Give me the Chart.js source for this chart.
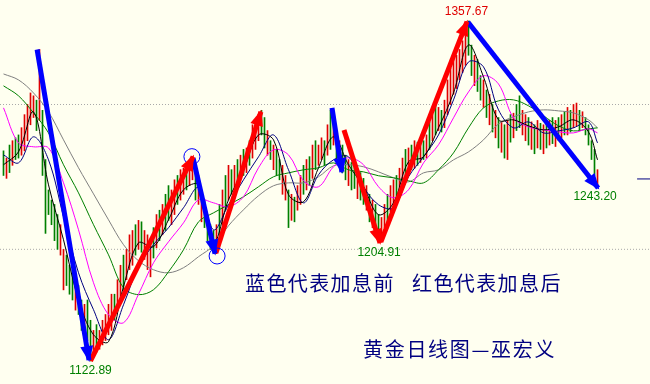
<!DOCTYPE html>
<html><head><meta charset="utf-8">
<script src="https://cdn.jsdelivr.net/npm/chart.js@4.4.0/dist/chart.umd.min.js"></script>
<style>html,body{margin:0;padding:0;background:#fffff0;overflow:hidden}#wrap{width:650px;height:384px}</style>
</head><body><div id="wrap"><canvas id="c" width="650" height="384"></canvas></div>
<script>
// ---- daily bars (high / low), 199 sessions ----
const highs = [
1268,1263,1272,1275,1277,1279,1284,1293,1300,1308,
1306,1303,1338,1296,1262,1241,1234,1231,1224,1217,
1200,1196,1189,1186,1182,1175,1165,1162,1165,1151,
1144,1148,1144,1151,1155,1162,1169,1169,1179,1189,
1196,1200,1210,1213,1217,1220,1219,1213,1210,1206,
1215,1224,1227,1231,1238,1244,1241,1248,1251,1255,
1256,1258,1262,1263,1255,1251,1238,1234,1224,1217,
1213,1217,1231,1241,1251,1258,1255,1258,1262,1265,
1269,1270,1275,1286,1288,1293,1296,1291,1282,1275,
1272,1269,1262,1258,1251,1241,1238,1236,1244,1251,
1258,1262,1264,1272,1275,1272,1277,1275,1286,1296,
1295,1282,1275,1272,1265,1262,1260,1258,1255,1253,
1249,1244,1238,1234,1231,1224,1222,1231,1238,1244,
1248,1251,1256,1263,1269,1270,1272,1275,1274,1277,
1275,1279,1288,1293,1300,1298,1296,1303,1317,1325,
1331,1334,1338,1344,1350,1357.67,1341,1334,1331,1320,
1317,1310,1307,1300,1296,1291,1288,1286,1289,1293,
1294,1300,1306,1296,1293,1291,1288,1286,1289,1287,
1286,1288,1289,1291,1289,1291,1293,1295,1298,1296,
1300,1301,1296,1295,1291,1286,1275,1269,1255];
const lows = [
1251,1249,1253,1258,1262,1263,1265,1268,1275,1286,
1291,1282,1289,1251,1211,1224,1217,1206,1200,1196,
1172,1175,1169,1165,1158,1155,1144,1141,1137,1122.89,
1127,1129,1131,1134,1137,1141,1144,1151,1158,1165,
1172,1179,1186,1189,1196,1200,1198,1193,1186,1181,
1194,1201,1206,1210,1213,1220,1217,1224,1231,1234,
1238,1241,1244,1248,1234,1231,1219,1215,1206,1200,
1198,1197,1210,1217,1227,1234,1238,1241,1242,1248,
1251,1253,1258,1263,1269,1275,1279,1270,1265,1262,
1255,1251,1248,1238,1234,1215,1220,1219,1227,1231,
1238,1241,1244,1249,1255,1258,1262,1258,1265,1269,
1272,1262,1258,1253,1248,1244,1241,1242,1235,1234,
1231,1227,1219,1215,1212,1208,1204.91,1215,1219,1226,
1227,1234,1238,1242,1248,1251,1255,1256,1258,1260,
1262,1263,1269,1275,1279,1282,1281,1284,1293,1300,
1307,1311,1317,1322,1327,1334,1320,1313,1309,1303,
1298,1291,1286,1281,1277,1270,1267,1263,1262,1274,
1277,1282,1284,1279,1275,1272,1269,1266,1270,1269,
1266,1270,1272,1273,1271,1275,1277,1279,1279,1281,
1284,1285,1282,1284,1279,1272,1262,1251,1243.2];
// 1 = up bar (red), 0 = down bar (green)
const upBar = [
0,1,0,1,0,0,1,1,1,1, 1,0,1,0,0,0,0,0,0,1, 1,0,0,0,1,0,0,1,0,0, 1,0,1,1,1,1,1,0,1,1,
0,1,1,1,0,1,0,1,1,1, 0,1,0,1,0,0,1,1,0,1, 1,0,1,1,0,1,1,0,0,0, 0,1,0,1,0,1,0,1,0,1,
0,1,0,1,1,1,0,0,1,0, 1,0,0,1,1,0,1,0,1,1, 0,1,0,1,0,1,1,0,1,0, 1,0,1,0,0,1,0,0,1,0,
0,1,0,1,0,0,1,1,0,1, 1,0,1,1,0,1,0,1,0,1, 0,1,0,1,0,1,0,1,1,1, 1,1,1,1,1,0,0,1,0,0,
1,0,1,0,1,0,1,0,1,0, 1,0,0,1,1,0,1,0,1,0, 1,0,1,0,1,0,1,0,1,0, 1,1,0,1,0,0,0,0,1];

// ---- moving averages, sampled every 5 sessions ----
const maIdx = [0,5,10,15,20,25,30,35,40,45,50,55,60,65,70,75,80,85,90,95,100,105,110,115,120,125,130,135,140,145,150,155,160,165,170,175,180,185,190,195,198];
const maFast = [1258.4,1267.3,1294.9,1244.5,1206.6,1165.2,1141.0,1136.2,1174.2,1204.5,1201.8,1220.4,1241.1,1244.5,1204.5,1234.2,1254.9,1279.0,1275.6,1237.7,1232.8,1256.3,1277.7,1258.4,1243.2,1223.9,1232.1,1260.4,1263.9,1283.9,1308.0,1341.1,1319.1,1289.4,1289.4,1285.3,1282.5,1284.6,1289.4,1281.1,1261.8];
const maNavy = [1265.2,1259.7,1277.7,1261.8,1222.5,1183.8,1158.3,1137.6,1161.7,1188.0,1203.2,1214.9,1228.7,1242.5,1213.5,1230.8,1248.0,1263.9,1279.0,1254.9,1232.1,1251.5,1261.8,1263.9,1243.2,1230.8,1228.7,1250.1,1263.9,1279.0,1303.2,1329.4,1326.0,1296.3,1283.9,1288.0,1280.4,1281.8,1283.9,1288.0,1273.5];
const maMid = [1297.7,1273.5,1270.8,1270.0,1245.9,1213.5,1176.9,1154.9,1149.3,1169.0,1190.7,1205.2,1218.3,1234.2,1232.1,1229.4,1236.3,1256.3,1268.7,1265.2,1247.3,1243.2,1257.0,1263.2,1258.4,1243.2,1235.6,1241.1,1259.7,1272.2,1290.8,1308.7,1319.8,1314.2,1290.8,1284.6,1282.5,1281.1,1280.4,1283.2,1280.4];
const maSlow = [1312.9,1306.0,1294.2,1280.4,1258.4,1239.0,1217.0,1196.2,1173.5,1168.7,1172.1,1184.5,1199.7,1219.0,1225.2,1230.8,1236.3,1243.2,1250.1,1252.8,1254.9,1256.3,1259.7,1254.9,1253.5,1250.8,1249.4,1247.3,1245.9,1254.9,1266.6,1283.9,1297.7,1302.5,1303.2,1299.1,1292.2,1285.3,1281.8,1283.2,1283.9];
const maLong = [1321.1,1317.0,1308.0,1294.9,1275.6,1256.3,1238.3,1220.4,1203.2,1192.1,1185.9,1183.8,1187.3,1194.9,1202.5,1216.3,1227.3,1237.0,1243.9,1245.9,1245.9,1250.1,1257.7,1258.4,1257.0,1253.5,1249.4,1246.6,1252.8,1254.9,1261.8,1267.3,1275.6,1286.6,1291.5,1294.9,1296.3,1295.6,1294.2,1289.4,1283.9];

// ---- reference levels ----
const levels = [1200, 1300];
const lastPrice = 1248.6;

// ---- swing arrows (session index, price) ----
const arrowFrom = [[11.2,1338],[29,1123],[63.2,1263],[70.8,1197.5],[109.5,1297.6],[113.5,1282.4],[125.8,1205.1],[154.8,1357]];
const arrowTo   = [[28.5,1123.5],[63.2,1264],[70.5,1197],[85.8,1295],[112.8,1253.4],[125.5,1204.4],[154.5,1357.2],[198.2,1242.4]];
const arrowPhase = ['before','after','before','after','before','after','after','before'];
const circleAt = [[62.8,1264],[71.2,1195.4]];

// ---- swing labels ----
const labelText  = ['1357.67','1122.89','1204.91','1243.20'];
const labelIdx   = [154.3, 29, 125.2, 197.2];
const labelPrice = [1357.67, 1122.89, 1204.91, 1243.20];
const labelSide  = ['above','below','below','below'];

const noteLine1a = '蓝色代表加息前';
const noteLine1b = '红色代表加息后';
const noteLine2  = '黄金日线图—巫宏义';

// ================= chart =================
const XMIN = -7/6, XMAX = XMIN + 650/3;
const datasets = [];
levels.forEach(v => datasets.push({type:'line', data:[{x:XMIN,y:v},{x:XMAX,y:v}], borderColor:'#a9a9a9', borderWidth:1, borderDash:[1,2], pointRadius:0, order:20}));
datasets.push({type:'bar', data: highs.map((h,i)=>({x:i, y:[lows[i], h]})),
  backgroundColor: upBar.map(u => u ? '#e00000' : '#008000'), borderWidth:0, barThickness:1, order:15});
const maStyle = [[maLong,'#808080'],[maSlow,'#008000'],[maMid,'#ff00ff'],[maNavy,'#000080'],[maFast,'#000000']];
maStyle.forEach(([arr,col],k) => datasets.push({type:'line', data: maIdx.map((ix,j)=>({x:ix,y:arr[j]})),
  borderColor:col, borderWidth:1, pointRadius:0, tension:0.35, order:10-k}));
datasets.push({type:'line', data:[{x:211.2,y:lastPrice},{x:XMAX,y:lastPrice}], borderColor:'#000080', borderWidth:1, pointRadius:0, order:4});
arrowFrom.forEach((f,k) => datasets.push({type:'line', isArrow:true,
  data:[{x:f[0],y:f[1]},{x:arrowTo[k][0],y:arrowTo[k][1]}],
  borderColor: arrowPhase[k]==='before' ? '#0000ff' : '#ff0000', borderWidth:5, pointRadius:0, order:2}));
datasets.push({type:'line', showLine:false, data: circleAt.map(c=>({x:c[0],y:c[1]})), pointRadius:8, pointHoverRadius:8, pointBorderColor:'#0000ff',
  pointBackgroundColor:'rgba(0,0,0,0)', pointBorderWidth:1, order:1});

const overlay = {
  id:'overlay',
  beforeDraw(chart){ const c=chart.ctx; c.save(); c.fillStyle='#fffff0'; c.fillRect(0,0,chart.width,chart.height); c.restore(); },
  afterDatasetsDraw(chart){
    const ctx = chart.ctx, xs = chart.scales.x, ys = chart.scales.y;
    chart.data.datasets.forEach((ds,di)=>{
      if(!ds.isArrow) return;
      const m = chart.getDatasetMeta(di), p0 = m.data[0], p1 = m.data[1];
      const a = Math.atan2(p1.y-p0.y, p1.x-p0.x), L=14, W=6.5;
      ctx.save(); ctx.fillStyle = ds.borderColor; ctx.beginPath();
      ctx.moveTo(p1.x + 2*Math.cos(a), p1.y + 2*Math.sin(a));
      ctx.lineTo(p1.x - L*Math.cos(a) + W*Math.sin(a), p1.y - L*Math.sin(a) - W*Math.cos(a));
      ctx.lineTo(p1.x - L*Math.cos(a) - W*Math.sin(a), p1.y - L*Math.sin(a) + W*Math.cos(a));
      ctx.closePath(); ctx.fill(); ctx.restore();
    });
    ctx.save();
    ctx.font = '12px "Liberation Sans", Arial, sans-serif';
    ctx.textAlign = 'center'; ctx.textBaseline = 'middle';
    labelText.forEach((t,k)=>{
      const px = xs.getPixelForValue(labelIdx[k]), py = ys.getPixelForValue(labelPrice[k]);
      ctx.fillStyle = labelSide[k]==='above' ? '#e00000' : '#008000';
      ctx.fillText(t, px, labelSide[k]==='above' ? py-9 : py+10);
    });
    ctx.textAlign = 'left';
    ctx.fillStyle = '#000080';
    ctx.font = '20px "Noto Sans CJK SC", sans-serif';
    ctx.letterSpacing = '1.4px';
    ctx.fillText(noteLine1a, 245, 283);
    ctx.fillText(noteLine1b, 412, 283);
    ctx.letterSpacing = '1.7px';
    ctx.fillText(noteLine2, 363, 349);
    ctx.restore();
  }
};

new Chart(document.getElementById('c'), {
  type:'bar',
  data:{datasets},
  options:{
    responsive:false, animation:false, devicePixelRatio:1,
    layout:{padding:0, autoPadding:false},
    plugins:{legend:{display:false}, tooltip:{enabled:false}},
    scales:{
      x:{type:'linear', min:XMIN, max:XMAX, display:false, offset:false},
      y:{type:'linear', min:1107, max:1372.17, display:false}
    }
  },
  plugins:[overlay]
});
</script></body></html>
